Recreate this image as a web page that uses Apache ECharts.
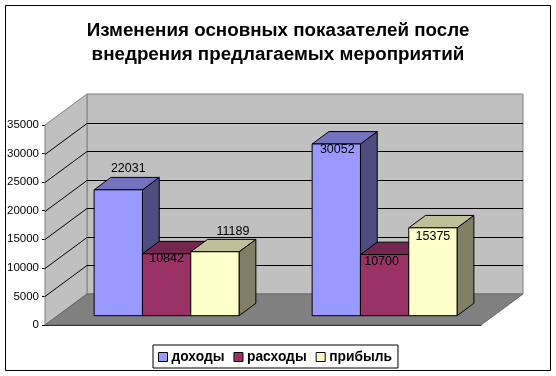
<!DOCTYPE html>
<html>
<head>
<meta charset="utf-8">
<style>
  html, body { margin: 0; padding: 0; background: #fff; }
  #chart { width: 556px; height: 376px; }
</style>
<script src="https://cdn.jsdelivr.net/npm/echarts@6/dist/echarts.min.js"></script>
</head>
<body>
<div id="chart"></div>
<script>
var categories = ['1', '2']
var dohody = [22031, 30052]
var rashody = [10842, 10700]
var pribyl = [11189, 15375]
var yTicks = [0, 5000, 10000, 15000, 20000, 25000, 30000, 35000]
var seriesNames = ['доходы', 'расходы', 'прибыль']

// 3d look: how far the back plane sits from the front plane, in px
var DEPTH_X = 42
var DEPTH_Y = 31
var BAR_NEAR = 0.3
var BAR_FAR = 0.7
var BAR_WIDTH = 0.2216

var FONT = '"Liberation Sans", Arial, sans-serif'
var colors = [
  { front: '#9999ff', top: '#7373bf', side: '#4d4d80' },
  { front: '#993366', top: '#732650', side: '#4d1a33' },
  { front: '#ffffcc', top: '#bfbf99', side: '#808066' }
]
// excel puts every label somewhere different, offsets from the front top centre of the bar
var labelOffsets = [
  [[10, -21], [1, 6]],
  [[0, 5], [-3, 7]],
  [[18, -20], [0, 9]]
]

function poly(points, fill, stroke, width) {
  return {
    type: 'polygon',
    shape: { points: points },
    style: { fill: fill, stroke: stroke, lineWidth: width === undefined ? 1 : width }
  }
}

function line(x1, y1, x2, y2, color) {
  return {
    type: 'line',
    shape: { x1: x1, y1: y1, x2: x2, y2: y2 },
    style: { stroke: color, lineWidth: 1 }
  }
}

function renderWalls(params, api) {
  var g = params.coordSys
  var x0 = g.x, x1 = g.x + g.width, top = g.y, bottom = g.y + g.height
  var bx0 = x0 + DEPTH_X, bx1 = x1 + DEPTH_X
  return {
    type: 'group',
    children: [
      poly([[bx0, top - DEPTH_Y], [bx1, top - DEPTH_Y], [bx1, bottom - DEPTH_Y], [bx0, bottom - DEPTH_Y]], '#c0c0c0', '#808080'),
      poly([[x0, top], [bx0, top - DEPTH_Y], [bx0, bottom - DEPTH_Y], [x0, bottom]], '#c0c0c0', '#808080')
    ]
  }
}

function renderGridline(params, api) {
  var g = params.coordSys
  var y = Math.round(api.coord([0, api.value(1)])[1]) + 0.5
  var x0 = g.x, x1 = g.x + g.width
  return {
    type: 'group',
    children: [
      line(x0, y, x0 + DEPTH_X, y - DEPTH_Y, '#000'),
      line(x0 + DEPTH_X, y - DEPTH_Y, x1 + DEPTH_X, y - DEPTH_Y, '#000')
    ]
  }
}

function renderFloor(params, api) {
  var g = params.coordSys
  var x0 = g.x, x1 = g.x + g.width, bottom = g.y + g.height
  return poly([[x0, bottom], [x0 + DEPTH_X, bottom - DEPTH_Y], [x1 + DEPTH_X, bottom - DEPTH_Y], [x1, bottom]], '#808080', '#666')
}

function barRenderer(idx) {
  return function (params, api) {
    var cat = api.value(0)
    var value = api.value(1)
    var band = api.size([1, 0])[0]
    var w = band * BAR_WIDTH
    var center = api.coord([cat, 0])[0]
    var zero = api.coord([cat, 0])[1]
    var valY = api.coord([cat, value])[1]
    var nx = DEPTH_X * BAR_NEAR, ny = DEPTH_Y * BAR_NEAR
    var dx = DEPTH_X * (BAR_FAR - BAR_NEAR), dy = DEPTH_Y * (BAR_FAR - BAR_NEAR)
    var left = center + nx + (idx - 1.5) * w
    var right = left + w
    var top = valY - ny
    var bottom = zero - ny
    var c = colors[idx]
    var off = labelOffsets[idx][cat]
    return {
      type: 'group',
      children: [
        poly([[right, top], [right + dx, top - dy], [right + dx, bottom - dy], [right, bottom]], c.side, '#000'),
        poly([[left, top], [left + dx, top - dy], [right + dx, top - dy], [right, top]], c.top, '#000'),
        poly([[left, top], [right, top], [right, bottom], [left, bottom]], c.front, '#000'),
        {
          type: 'text',
          x: (left + right) / 2 + off[0],
          y: top + off[1],
          style: {
            text: String(value),
            fill: '#000',
            font: '12.5px ' + FONT,
            align: 'center',
            verticalAlign: 'middle'
          }
        }
      ]
    }
  }
}

function barSeries(idx, values) {
  return {
    type: 'custom',
    name: seriesNames[idx],
    renderItem: barRenderer(idx),
    data: values.map(function (v, i) { return [i, v] }),
    encode: { x: 0, y: 1 },
    itemStyle: { color: colors[idx].front },
    z: 5 + idx
  }
}

var chart = echarts.init(document.getElementById('chart'))
chart.setOption({
  animation: false,
  backgroundColor: '#fff',
  textStyle: { fontFamily: FONT },
  title: {
    text: 'Изменения основных показателей после\nвнедрения предлагаемых мероприятий',
    left: 273,
    top: 14,
    textAlign: 'center',
    textStyle: { fontSize: 18.8, fontWeight: 'bold', color: '#000', lineHeight: 24, fontFamily: FONT }
  },
  graphic: [{
    type: 'rect',
    shape: { x: 5.5, y: 5.5, width: 545, height: 365 },
    style: { fill: 'none', stroke: '#000', lineWidth: 1 },
    silent: true,
    z: 100
  }],
  legend: {
    left: 153,
    top: 345,
    padding: [5, 6, 4, 5],
    itemWidth: 9,
    itemHeight: 9,
    itemGap: 9,
    borderColor: '#000',
    borderWidth: 1,
    textStyle: { fontSize: 13.8, fontWeight: 'bold', color: '#000', fontFamily: FONT, padding: [0, 0, 0, -1] },
    data: seriesNames.map(function (n, i) {
      return { name: n, icon: 'rect', itemStyle: { color: colors[i].front, borderColor: '#000', borderWidth: 1 } }
    })
  },
  grid: { left: 45, right: 75, top: 125, bottom: 51 },
  xAxis: {
    type: 'category',
    data: categories,
    axisLabel: { show: false },
    axisTick: { show: false },
    axisLine: { show: true, lineStyle: { color: '#000' } }
  },
  yAxis: {
    type: 'value',
    min: 0,
    max: 35000,
    interval: 5000,
    axisLabel: {
      fontSize: 11.5,
      color: '#000',
      margin: 6,
      padding: [9, 0, 0, 0],
      fontFamily: FONT,
      formatter: function (v) { return String(v) }
    },
    axisTick: { show: true, length: 3, lineStyle: { color: '#000' } },
    axisLine: { show: true, lineStyle: { color: '#808080' } },
    splitLine: { show: false }
  },
  series: [
    { type: 'custom', renderItem: renderWalls, data: [[0, 0]], encode: { x: 0, y: 1 }, silent: true, z: 1 },
    {
      type: 'custom',
      renderItem: renderGridline,
      data: yTicks.slice(1, -1).map(function (t) { return [0, t] }),
      encode: { x: 0, y: 1 },
      silent: true,
      z: 2
    },
    { type: 'custom', renderItem: renderFloor, data: [[0, 0]], encode: { x: 0, y: 1 }, silent: true, z: 3 },
    barSeries(0, dohody),
    barSeries(1, rashody),
    barSeries(2, pribyl)
  ]
})
</script>
</body>
</html>
